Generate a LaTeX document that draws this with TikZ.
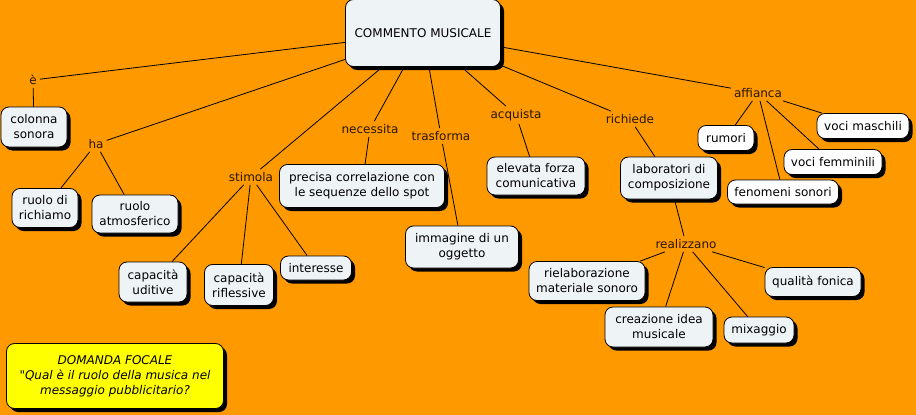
\documentclass[tikz,border=0pt]{standalone}
\usepackage{fontspec}
\setmainfont{DejaVu Sans}
\usetikzlibrary{shadows}
\definecolor{mapbg}{RGB}{255,153,0}
\definecolor{conceptfill}{RGB}{238,243,246}
\definecolor{linkcol}{RGB}{40,22,0}
\definecolor{focalfill}{RGB}{255,255,0}

\begin{document}
\begin{tikzpicture}[
    x=1pt, y=-1pt,
    font=\fontsize{12}{15}\selectfont,
    concept/.style={rectangle, rounded corners=8pt, draw=black, line width=0.8pt, fill=conceptfill, align=center, inner sep=2pt, drop shadow={shadow xshift=3.5pt, shadow yshift=-3.5pt, opacity=1, fill=black}},
    white_concept/.style={concept, fill=white},
    focal/.style={concept, fill=focalfill, font=\fontsize{12}{15}\selectfont\itshape},
    link_word/.style={text=linkcol, inner sep=3pt},
    edge/.style={line width=0.8pt}
]

% sfondo
\fill[mapbg] (0,0) rectangle (916,415);
\useasboundingbox (0,0) rectangle (916,415);

% concetti
\node[concept, minimum width=155pt, minimum height=67pt] (main) at (423,33) {COMMENTO MUSICALE};
\node[concept, minimum width=66pt, minimum height=40pt] (colonna) at (34,127) {colonna\\sonora};
\node[concept, minimum width=66pt, minimum height=39pt] (richiamo) at (45,208) {ruolo di\\richiamo};
\node[concept, minimum width=86pt, minimum height=38pt] (atmosferico) at (135,214) {ruolo\\atmosferico};
\node[concept, minimum width=68pt, minimum height=40pt] (uditive) at (153,282) {capacità\\uditive};
\node[concept, minimum width=69pt, minimum height=41pt] (riflessive) at (239,285) {capacità\\riflessive};
\node[concept, minimum width=71pt, minimum height=24pt] (interesse) at (316,268) {interesse};
\node[concept, minimum width=165pt, minimum height=43pt] (correlazione) at (362,186) {precisa correlazione con\\le sequenze dello spot};
\node[concept, minimum width=113pt, minimum height=42pt] (immagine) at (462,247) {immagine di un\\oggetto};
\node[concept, minimum width=98pt, minimum height=38pt] (forza) at (536,176) {elevata forza\\comunicativa};
\node[concept, minimum width=97pt, minimum height=42pt] (laboratori) at (669,178) {laboratori di\\composizione};
\node[white_concept, minimum width=56pt, minimum height=25pt] (rumori) at (726,138) {rumori};
\node[white_concept, minimum width=92pt, minimum height=25pt] (maschili) at (863,126) {voci maschili};
\node[white_concept, minimum width=98pt, minimum height=25pt] (femminili) at (833,162) {voci femminili};
\node[white_concept, minimum width=111pt, minimum height=24pt] (fenomeni) at (783,192) {fenomeni sonori};
\node[concept, minimum width=116pt, minimum height=39pt] (rielaborazione) at (587,281) {rielaborazione\\materiale sonoro};
\node[concept, minimum width=108pt, minimum height=40pt] (creazione) at (659,327) {creazione idea\\musicale};
\node[concept, minimum width=70pt, minimum height=26pt] (mixaggio) at (759,330) {mixaggio};
\node[concept, minimum width=96pt, minimum height=29pt] (fonica) at (813,282) {qualità fonica};
\node[focal, minimum width=217pt, minimum height=65pt] (focale) at (115,376) {DOMANDA FOCALE\\\textquotedbl Qual è il ruolo della musica nel\\messaggio pubblicitario?};

% parole legame
\node[link_word] (e) at (33,80) {è};
\node[link_word] (ha) at (96,144) {ha};
\node[link_word] (stimola) at (251,177) {stimola};
\node[link_word] (necessita) at (370,129) {necessita};
\node[link_word] (trasforma) at (441,136) {trasforma};
\node[link_word] (acquista) at (516,115) {acquista};
\node[link_word] (richiede) at (630,119) {richiede};
\node[link_word] (affianca) at (758,93) {affianca};
\node[link_word] (realizzano) at (686,244) {realizzano};

% collegamenti
\draw[edge] (main) -- (e);
\draw[edge] (e) -- (colonna);
\draw[edge] (main) -- (ha);
\draw[edge] (ha) -- (richiamo);
\draw[edge] (ha) -- (atmosferico);
\draw[edge] (main) -- (stimola);
\draw[edge] (stimola) -- (uditive);
\draw[edge] (stimola) -- (riflessive);
\draw[edge] (stimola) -- (interesse);
\draw[edge] (main) -- (necessita);
\draw[edge] (necessita) -- (correlazione);
\draw[edge] (main) -- (trasforma);
\draw[edge] (trasforma) -- (immagine);
\draw[edge] (main) -- (acquista);
\draw[edge] (acquista) -- (forza);
\draw[edge] (main) -- (richiede);
\draw[edge] (richiede) -- (laboratori);
\draw[edge] (main) -- (affianca);
\draw[edge] (affianca) -- (rumori);
\draw[edge] (affianca) -- (maschili);
\draw[edge] (affianca) -- (femminili);
\draw[edge] (affianca) -- (fenomeni);
\draw[edge] (laboratori) -- (realizzano);
\draw[edge] (realizzano) -- (rielaborazione);
\draw[edge] (realizzano) -- (creazione);
\draw[edge] (realizzano) -- (mixaggio);
\draw[edge] (realizzano) -- (fonica);

\end{tikzpicture}
\end{document}
